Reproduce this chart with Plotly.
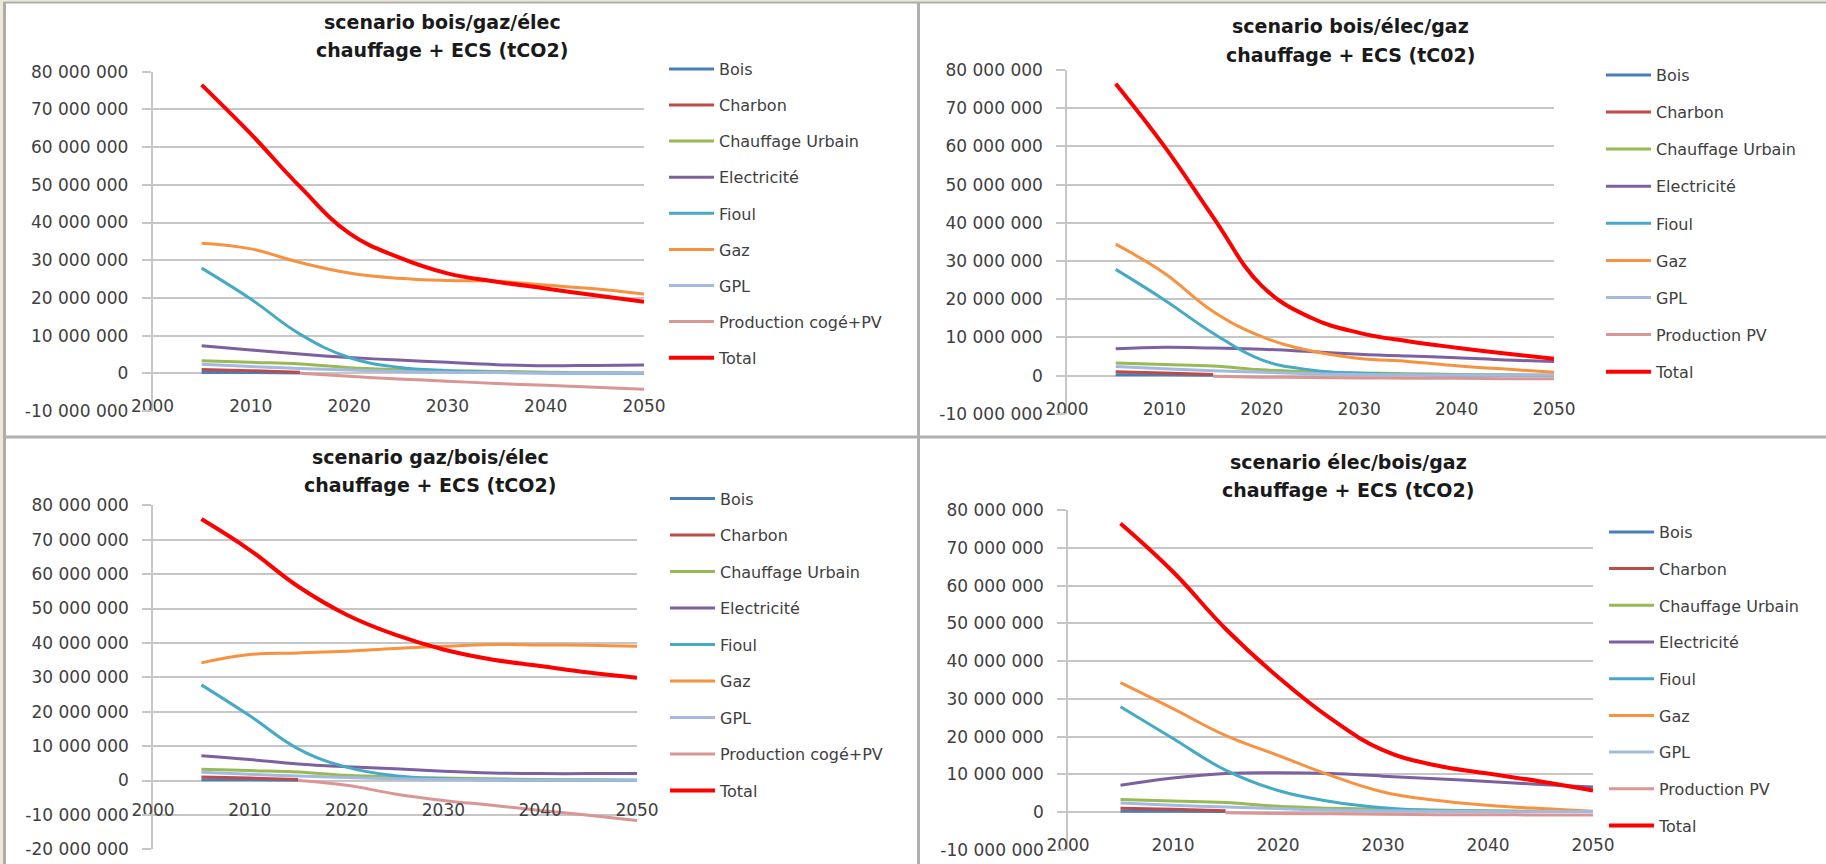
import plotly.graph_objects as go

W, H = 1826, 864

# years of the data points
years = [2005, 2010, 2015, 2020, 2025, 2030, 2035, 2040, 2045, 2050]
years_early = [2005, 2010, 2015]
years_late = [2015, 2020, 2025, 2030, 2035, 2040, 2045, 2050]
x_ticks = [2000, 2010, 2020, 2030, 2040, 2050]

# series shared by the four scenarios (tCO2)
bois = [200000, 200000, 100000]
charbon = [1000000, 700000, 300000]
gpl = [2400000, 1800000, 1300000, 900000, 500000, 300000, 200000, 100000, 100000, 100000]
chauffage_urbain = [3300000, 2900000, 2500000, 1500000, 1000000, 700000, 500000, 300000, 200000, 100000]

# scenario bois/gaz/élec
elec_bge = [7300000, 6200000, 5100000, 4200000, 3500000, 2900000, 2300000, 2000000, 2100000, 2200000]
fioul_bge = [27900000, 19700000, 10400000, 4200000, 1600000, 700000, 300000, 100000, 0, 0]
gaz_bge = [34500000, 33000000, 29400000, 26600000, 25200000, 24600000, 24400000, 23400000, 22400000, 21000000]
prod_bge = [0, -800000, -1500000, -2100000, -2700000, -3200000, -3700000, -4200000]
total_bge = [76500000, 63500000, 49500000, 37200000, 30800000, 26500000, 24300000, 22500000, 20700000, 19000000]

# scenario bois/élec/gaz
elec_beg = [7000000, 7400000, 7200000, 6900000, 6300000, 5600000, 5100000, 4700000, 4100000, 3700000]
fioul_beg = [27800000, 19800000, 11100000, 4100000, 1500000, 600000, 300000, 100000, 100000, 100000]
gaz_beg = [34400000, 26800000, 16800000, 10200000, 6500000, 4500000, 3700000, 2600000, 1700000, 900000]
prod_beg = [-200000, -400000, -500000, -600000, -700000, -700000, -800000, -800000]
total_beg = [76400000, 60000000, 41500000, 23500000, 15200000, 11200000, 9000000, 7300000, 5800000, 4400000]

# scenario gaz/bois/élec
elec_gbe = [7200000, 6100000, 4800000, 4000000, 3400000, 2700000, 2200000, 2000000, 2000000, 2000000]
fioul_gbe = [27800000, 18800000, 9200000, 3900000, 1400000, 500000, 200000, 100000, 100000, 100000]
gaz_gbe = [34200000, 36600000, 37100000, 37600000, 38400000, 39000000, 39500000, 39400000, 39300000, 39000000]
prod_gbe = [0, -1400000, -3900000, -5800000, -7200000, -8700000, -10100000, -11600000]
total_gbe = [76000000, 67000000, 56400000, 48200000, 42400000, 38100000, 35200000, 33300000, 31400000, 29900000]

# scenario élec/bois/gaz
elec_ebg = [7100000, 9000000, 10200000, 10400000, 10200000, 9500000, 8800000, 8100000, 7300000, 6600000]
fioul_ebg = [27900000, 19500000, 11100000, 5700000, 2800000, 1100000, 400000, 200000, 100000, 100000]
gaz_ebg = [34300000, 27400000, 20300000, 15000000, 9700000, 5300000, 3100000, 1800000, 900000, 200000]
prod_ebg = [-200000, -400000, -500000, -600000, -700000, -700000, -800000, -800000]
total_ebg = [76500000, 63700000, 48600000, 35800000, 24800000, 16400000, 12400000, 10200000, 8100000, 5700000]

colors = {
    "Bois": "#4a7ebb", "Charbon": "#be4b48", "Chauffage Urbain": "#98b954",
    "Electricité": "#7d60a0", "Fioul": "#46aac5", "Gaz": "#f69240",
    "GPL": "#a3b9e0", "Production": "#d99694", "Total": "#ff0000",
}

FONT = "DejaVu Sans"
GRID = "#c6c6c6"
TXT = "#404040"

panels = [
    dict(t1="scenario bois/gaz/élec", t2="chauffage + ECS (tCO2)", prod_name="Production cogé+PV",
         elec=elec_bge, fioul=fioul_bge, gaz=gaz_bge, prod=prod_bge, total=total_bge, ymin=-10000000,
         dx=(152.5, 644), dy=(71.7, 411), lab=411, tx=442, ty=(21.7, 50), lx=672, ly=68, gap=12.3),
    dict(t1="scenario bois/élec/gaz", t2="chauffage + ECS (tC02)", prod_name="Production PV",
         elec=elec_beg, fioul=fioul_beg, gaz=gaz_beg, prod=prod_beg, total=total_beg, ymin=-10000000,
         dx=(1067, 1554), dy=(70, 413.8), lab=413.8, tx=1350, ty=(26, 55), lx=1609, ly=74, gap=13.3),
    dict(t1="scenario gaz/bois/élec", t2="chauffage + ECS (tCO2)", prod_name="Production cogé+PV",
         elec=elec_gbe, fioul=fioul_gbe, gaz=gaz_gbe, prod=prod_gbe, total=total_gbe, ymin=-20000000,
         dx=(153, 637), dy=(505.3, 849.3), lab=814.9, tx=430, ty=(457, 485.3), lx=673, ly=497.5, gap=12.7),
    dict(t1="scenario élec/bois/gaz", t2="chauffage + ECS (tCO2)", prod_name="Production PV",
         elec=elec_ebg, fioul=fioul_ebg, gaz=gaz_ebg, prod=prod_ebg, total=total_ebg, ymin=-10000000,
         dx=(1068, 1593), dy=(510.3, 849.7), lab=849.7, tx=1348, ty=(462, 490.3), lx=1612, ly=531, gap=12.9),
]


def px_x(v):
    return v / W


def px_y(v):
    return 1 - v / H


fig = go.Figure()
layout = {}
annotations = []

for i, p in enumerate(panels, start=1):
    xa = "x" if i == 1 else f"x{i}"
    ya = "y" if i == 1 else f"y{i}"
    leg = "legend" if i == 1 else f"legend{i}"

    series = [
        ("Bois", years_early, bois, 3),
        ("Charbon", years_early, charbon, 3),
        ("Chauffage Urbain", years, chauffage_urbain, 3),
        ("Electricité", years, p["elec"], 3),
        ("Fioul", years, p["fioul"], 3),
        ("Gaz", years, p["gaz"], 3),
        ("GPL", years, gpl, 3),
        ("Production", years_late, p["prod"], 3),
        ("Total", years, p["total"], 4),
    ]
    for key, xs, ys, w in series:
        name = p["prod_name"] if key == "Production" else key
        fig.add_trace(go.Scatter(
            x=xs, y=ys, name=name, mode="lines", xaxis=xa, yaxis=ya,
            line=dict(color=colors[key], width=w, shape="spline", smoothing=1.2),
            legend=leg, legendgroup=f"{i}-{key}", hoverinfo="skip",
        ))

    yvals = list(range(p["ymin"], 80000001, 10000000))
    ytext = [f"{v:,}".replace(",", " ") for v in yvals]

    # x labels sit on the lower gridline (or on -10 000 000 for the third chart)
    layout[f"xaxis{i}"] = dict(
        domain=[px_x(p["dx"][0]), px_x(p["dx"][1])], range=[2000, 2050],
        anchor="free", position=px_y(p["lab"]), tickvals=x_ticks, ticks="",
        showgrid=False, zeroline=False, showline=False, automargin=False,
        tickfont=dict(family=FONT, size=17, color=TXT), ticklabelstandoff=-17,
    )
    layout[f"yaxis{i}"] = dict(
        domain=[px_y(p["dy"][1]), px_y(p["dy"][0])], range=[p["ymin"], 80000000],
        anchor=xa, tickvals=yvals, ticktext=ytext, automargin=False,
        showgrid=True, gridcolor=GRID, gridwidth=1.5, zeroline=False,
        showline=True, linecolor=GRID, linewidth=1.5,
        ticks="outside", ticklen=9, tickcolor=GRID, tickwidth=1.5, ticklabelstandoff=10,
        tickfont=dict(family=FONT, size=17, color=TXT),
    )
    layout[leg] = dict(
        x=px_x(p["lx"] - 8), y=px_y(p["ly"] - 16), xanchor="left", yanchor="top",
        bgcolor="rgba(0,0,0,0)", font=dict(family=FONT, size=16, color=TXT),
        tracegroupgap=p["gap"], itemwidth=45,
    )
    for txt, ty in zip((p["t1"], p["t2"]), p["ty"]):
        annotations.append(dict(
            text=f"<b>{txt}</b>", x=px_x(p["tx"]), y=px_y(ty), xref="paper", yref="paper",
            xanchor="center", yanchor="middle", showarrow=False,
            font=dict(family=FONT, size=19, color="#1a1a1a"),
        ))

shapes = [
    dict(type="rect", xref="paper", yref="paper", x0=0, x1=px_x(3), y0=0, y1=1,
         fillcolor="#ece9d8", line_width=0, layer="below"),
    dict(type="rect", xref="paper", yref="paper", x0=0, x1=1, y0=px_y(1.5), y1=1,
         fillcolor="#ece9d8", line_width=0, layer="below"),
    dict(type="line", xref="paper", yref="paper", x0=px_x(4.5), x1=px_x(4.5), y0=0, y1=px_y(2),
         line=dict(color="#acacac", width=3)),
    dict(type="line", xref="paper", yref="paper", x0=px_x(3), x1=1, y0=px_y(2.5), y1=px_y(2.5),
         line=dict(color="#acacac", width=2)),
    dict(type="line", xref="paper", yref="paper", x0=px_x(918.5), x1=px_x(918.5), y0=0, y1=px_y(2),
         line=dict(color="#b0b0b0", width=3)),
    dict(type="line", xref="paper", yref="paper", x0=px_x(3), x1=1, y0=px_y(437), y1=px_y(437),
         line=dict(color="#b0b0b0", width=3)),
]

fig.update_layout(
    width=W, height=H, margin=dict(l=0, r=0, t=0, b=0, autoexpand=False),
    paper_bgcolor="white", plot_bgcolor="rgba(0,0,0,0)",
    annotations=annotations, shapes=shapes, **layout,
)

fig.write_html("out.html", config={"displayModeBar": False},
               post_script="document.body.style.margin='0';document.body.style.overflow='hidden';")
